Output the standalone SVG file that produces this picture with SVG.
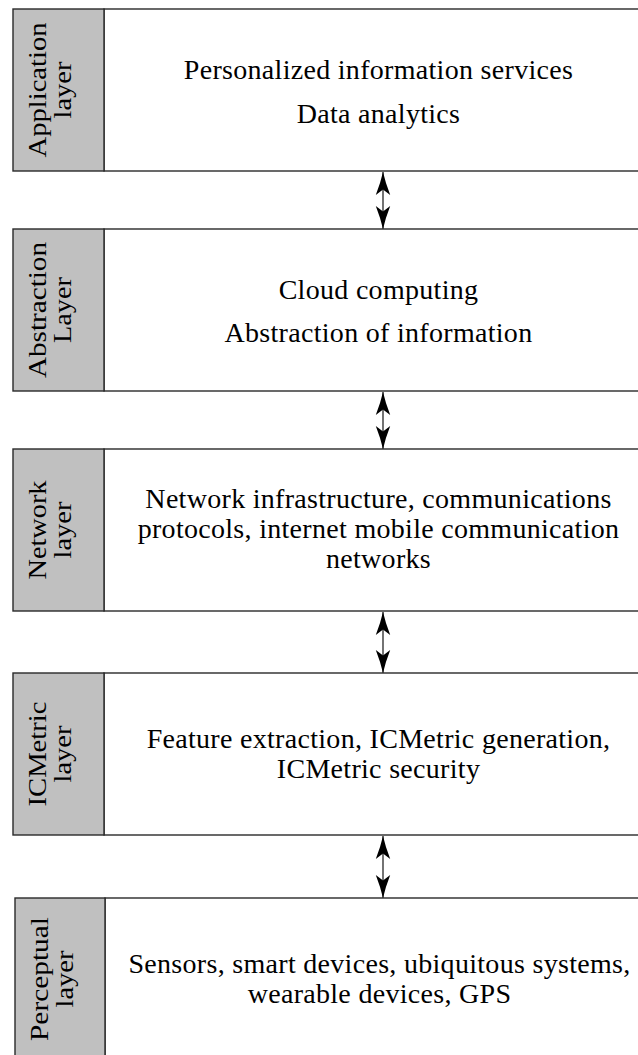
<svg xmlns="http://www.w3.org/2000/svg" width="638" height="1055" viewBox="0 0 638 1055">
<style>
.lab{fill:#c0c0c0;stroke:#2a2a2a;stroke-width:1.4}
.body{fill:#fff;stroke:#2a2a2a;stroke-width:1.4}
.t{font-family:'Liberation Serif',serif;font-size:26px;fill:#000;text-anchor:middle}
.m{font-family:'Liberation Serif',serif;font-size:28px;letter-spacing:0.3px;fill:#000;text-anchor:middle}
.conn{stroke:#000;stroke-width:1.1;fill:none}
</style>
<defs>
<marker id="ah" viewBox="-24 -8 26 16" refX="0" refY="0" markerWidth="26" markerHeight="16" markerUnits="userSpaceOnUse" orient="auto-start-reverse">
<path d="M0,0 Q-11,-2.5 -23,-7.2 L-17.5,0 L-23,7.2 Q-11,2.5 0,0 Z" fill="#000"/>
</marker>
</defs>
<rect width="638" height="1055" fill="#fff"/>
<g id="connectors">
<line class="conn" x1="383" y1="172" x2="383" y2="229" marker-start="url(#ah)" marker-end="url(#ah)"/>
<line class="conn" x1="383" y1="392" x2="383" y2="449" marker-start="url(#ah)" marker-end="url(#ah)"/>
<line class="conn" x1="383" y1="612" x2="383" y2="673" marker-start="url(#ah)" marker-end="url(#ah)"/>
<line class="conn" x1="383" y1="836" x2="383" y2="898" marker-start="url(#ah)" marker-end="url(#ah)"/>
</g>
<g id="application">
<rect class="body" x="104" y="9" width="560" height="162"/>
<rect class="lab" x="13" y="9" width="91" height="162"/>
<text class="t" transform="translate(46,90) rotate(-90)" textLength="135" lengthAdjust="spacingAndGlyphs">Application</text>
<text class="t" transform="translate(71,90) rotate(-90)" textLength="57" lengthAdjust="spacingAndGlyphs">layer</text>
<text class="m" x="378.5" y="79">Personalized information services</text>
<text class="m" x="378.5" y="123">Data analytics</text>
</g>
<g id="abstraction">
<rect class="body" x="104" y="229" width="560" height="162"/>
<rect class="lab" x="13" y="229" width="91" height="162"/>
<text class="t" transform="translate(46,310) rotate(-90)" textLength="136" lengthAdjust="spacingAndGlyphs">Abstraction</text>
<text class="t" transform="translate(71,310) rotate(-90)" textLength="66" lengthAdjust="spacingAndGlyphs">Layer</text>
<text class="m" x="378.5" y="299">Cloud computing</text>
<text class="m" x="378.5" y="342">Abstraction of information</text>
</g>
<g id="network">
<rect class="body" x="104" y="449" width="560" height="162"/>
<rect class="lab" x="13" y="449" width="91" height="162"/>
<text class="t" transform="translate(46,530) rotate(-90)" textLength="99" lengthAdjust="spacingAndGlyphs">Network</text>
<text class="t" transform="translate(71,530) rotate(-90)" textLength="57" lengthAdjust="spacingAndGlyphs">layer</text>
<text class="m" x="378.5" y="508">Network infrastructure, communications</text>
<text class="m" x="378.5" y="538">protocols, internet mobile communication</text>
<text class="m" x="378.5" y="568">networks</text>
</g>
<g id="icmetric">
<rect class="body" x="104" y="673" width="560" height="162"/>
<rect class="lab" x="13" y="673" width="91" height="162"/>
<text class="t" transform="translate(46,754) rotate(-90)" textLength="105" lengthAdjust="spacingAndGlyphs">ICMetric</text>
<text class="t" transform="translate(71,754) rotate(-90)" textLength="57" lengthAdjust="spacingAndGlyphs">layer</text>
<text class="m" x="378.5" y="748">Feature extraction, ICMetric generation,</text>
<text class="m" x="378.5" y="778">ICMetric security</text>
</g>
<g id="perceptual">
<rect class="body" x="105" y="898" width="560" height="162"/>
<rect class="lab" x="15" y="898" width="90" height="162"/>
<text class="t" transform="translate(48,979) rotate(-90)" textLength="124" lengthAdjust="spacingAndGlyphs">Perceptual</text>
<text class="t" transform="translate(73,979) rotate(-90)" textLength="57" lengthAdjust="spacingAndGlyphs">layer</text>
<text class="m" x="379.5" y="973">Sensors, smart devices, ubiquitous systems,</text>
<text class="m" x="379.5" y="1003">wearable devices, GPS</text>
</g>
</svg>
